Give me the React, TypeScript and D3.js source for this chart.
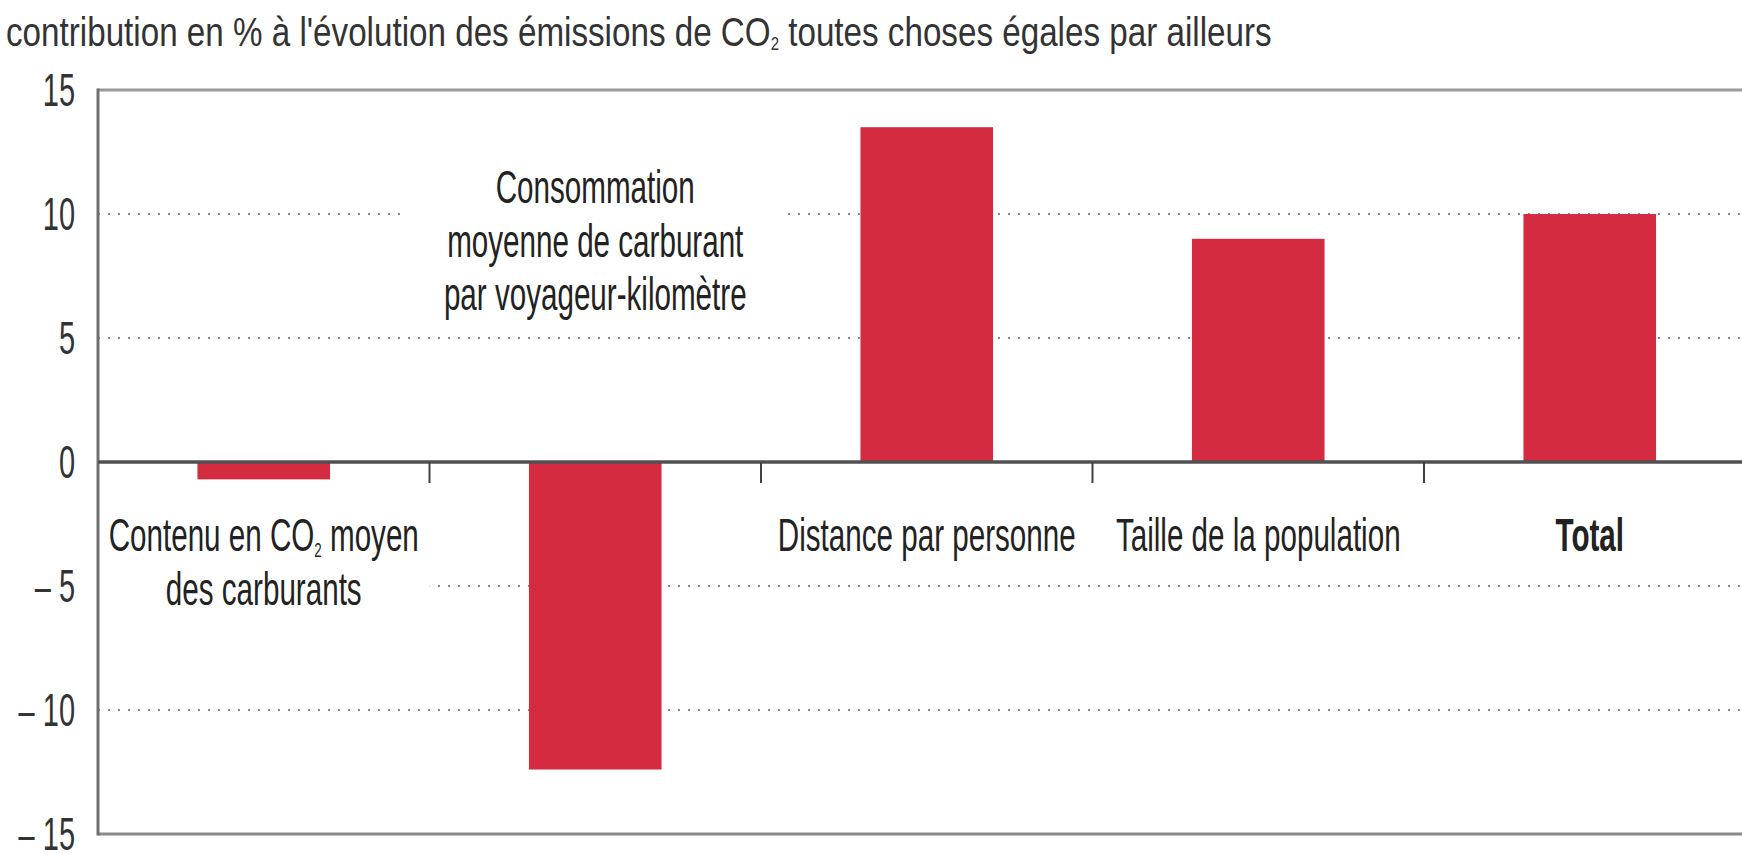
import React from 'react';
import * as d3 from 'd3';

// chart data
const categories = ['contenu', 'consommation', 'distance', 'population', 'total'];
const values = [-0.7, -12.4, 13.5, 9.0, 10.0];
const labelLines = [
    ['Contenu en CO|2| moyen', 'des carburants'],
    ['Consommation', 'moyenne de carburant', 'par voyageur-kilomètre'],
    ['Distance par personne'],
    ['Taille de la population'],
    ['Total'],
];
const yTicks = [-15, -10, -5, 0, 5, 10, 15];
const gridTicks = [-10, -5, 5, 10];
const title = "contribution en % à l'évolution des émissions de CO|2| toutes choses égales par ailleurs";

const W = 1742, H = 854;
const left = 98, top = 90, bottom = 834, step = 331.5;
const barColor = '#d52b41';
const font = '"Liberation Sans", Arial, sans-serif';
const sx = 0.63;

// split "CO|2|" into normal + subscript parts
const renderParts = (s: string, sub: number) =>
    s.split('|').map((p, i) =>
        i % 2 === 1
            ? <tspan key={i} fontSize="0.45em" dy={sub}>{p}</tspan>
            : <tspan key={i} dy={i > 0 ? -sub : 0}>{p}</tspan>
    );

const App = () => {
    const x = d3.scaleBand<string>().domain(categories).range([left, left + step * categories.length]).padding(0);
    const y = d3.scaleLinear().domain([-15, 15]).range([bottom, top]);
    const barW = x.bandwidth() * 0.4;
    const lineH = 53.5;

    return (
        <svg width={W} height={H} style={{ position: 'absolute', left: 0, top: 0, background: '#fff' }}
            fontFamily={font}>
            <rect width={W} height={H} fill="#fff" />
            {/* title */}
            <text transform={`translate(6,46) scale(0.83,1)`} fontSize={40} fill="#333">
                {renderParts(title, 4)}
            </text>

            {/* dotted grid */}
            {gridTicks.map(t => (
                <line key={t} x1={left} x2={W} y1={y(t)} y2={y(t)}
                    stroke="#8a8a8a" strokeWidth={2} strokeDasharray="2 8" />
            ))}

            {/* label backgrounds, masking the grid */}
            {categories.map((c, i) => {
                const cx = x(c)! + x.bandwidth() / 2;
                const above = values[i] < -5;
                const n = labelLines[i].length;
                const y0 = above ? y(0) - 300 : y(0) + 42;
                const h = above ? 162 : lineH * (n - 1) + 60;
                const wMax = i === 1 ? 380 : i === 0 ? 332 : 320;
                return (
                    <rect key={c} x={cx - wMax / 2} y={y0} width={wMax} height={h} fill="#fff" />
                );
            })}

            {/* bars */}
            {categories.map((c, i) => (
                <rect key={c}
                    x={x(c)! + (x.bandwidth() - barW) / 2}
                    y={y(Math.max(0, values[i]))}
                    width={barW}
                    height={Math.abs(y(values[i]) - y(0))}
                    fill={barColor} />
            ))}

            {/* frame */}
            <line x1={left} x2={W} y1={top} y2={top} stroke="#9a9a9a" strokeWidth={3} />
            <line x1={left} x2={W} y1={bottom} y2={bottom} stroke="#8a8a8a" strokeWidth={3} />
            <line x1={left} x2={left} y1={top - 1.5} y2={bottom + 1.5} stroke="#707070" strokeWidth={3} />

            {/* zero axis and category ticks */}
            <line x1={left} x2={W} y1={y(0)} y2={y(0)} stroke="#505050" strokeWidth={3.5} />
            {categories.slice(1).map(c => (
                <line key={c} x1={x(c)!} x2={x(c)!} y1={y(0)} y2={y(0) + 21} stroke="#404040" strokeWidth={2} />
            ))}

            {/* y tick labels */}
            {yTicks.map(t => (
                <text key={t} transform={`translate(75,${y(t) + 16}) scale(${sx},1)`}
                    textAnchor="end" fontSize={46} fill="#333">
                    {t < 0 ? `– ${Math.abs(t)}` : `${t}`}
                </text>
            ))}

            {/* category labels */}
            {categories.map((c, i) => {
                const cx = x(c)! + x.bandwidth() / 2;
                const above = values[i] < -5;
                const base = above ? y(0) - 259 : y(0) + 89;
                return labelLines[i].map((ln, j) => (
                    <text key={c + j} transform={`translate(${cx},${base + j * lineH}) scale(${sx},1)`}
                        textAnchor="middle" fontSize={47} fill="#222"
                        fontWeight={c === 'total' ? 'bold' : 'normal'}>
                        {renderParts(ln, 6)}
                    </text>
                ));
            })}
        </svg>
    );
};

export default App;
